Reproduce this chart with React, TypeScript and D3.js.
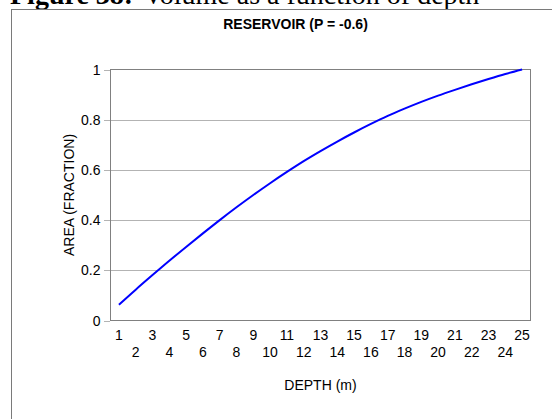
import React from "react";
import * as d3 from "d3";

const depths: number[] = [1,2,3,4,5,6,7,8,9,10,11,12,13,14,15,16,17,18,19,20,21,22,23,24,25];
const areaFraction: number[] = [
  0.063, 0.123, 0.181, 0.238, 0.293, 0.347, 0.4, 0.451, 0.5, 0.547,
  0.592, 0.635, 0.675, 0.713, 0.749, 0.783, 0.815, 0.844, 0.871, 0.896,
  0.919, 0.941, 0.962, 0.982, 1.0,
];
const yTicks: number[] = [0, 0.2, 0.4, 0.6, 0.8, 1];
const yTickLabels: string[] = ["0", "0.2", "0.4", "0.6", "0.8", "1"];

const W = 552;
const H = 419;
const plot = { left: 110.5, right: 530.5, top: 69.5, bottom: 320.5 };
const sans = "'Liberation Sans', Arial, sans-serif";
const serif = "'Liberation Serif', 'Times New Roman', serif";

export default function App() {
  const x = d3.scaleBand<number>().domain(depths).range([plot.left, plot.right]).padding(0);
  const bw = x.bandwidth();
  const cx = (d: number) => (x(d) as number) + bw / 2;
  const y = d3.scaleLinear().domain([0, 1]).range([plot.bottom, plot.top]);
  const line = d3
    .line<number>()
    .x((_, i) => cx(depths[i]))
    .y((v) => y(v))
    .curve(d3.curveMonotoneX);
  const midX = (plot.left + plot.right) / 2;
  const midY = (plot.top + plot.bottom) / 2;

  return (
    <svg
      width={W}
      height={H}
      style={{ position: "absolute", left: 0, top: 0, background: "#fff" }}
    >
      <text x={10} y={4} fontFamily={serif} fontSize={28} fill="#000">
        <tspan fontWeight="bold">Figure 38:</tspan>
        <tspan dx={10}>Volume as a function of depth</tspan>
      </text>
      <rect x={11.5} y={9.5} width={700} height={600} fill="none" stroke="#7a7a7a" strokeWidth={1} />
      <text x={midX - 25} y={28.5} textAnchor="middle" fontFamily={sans} fontSize={14} fontWeight="bold" fill="#000">
        RESERVOIR (P = -0.6)
      </text>
      {yTicks.map((t) => (
        <g key={"g" + t}>
          {t > 0 && t < 1 && (
            <line
              x1={plot.left}
              x2={plot.right}
              y1={Math.round(y(t)) + 0.5}
              y2={Math.round(y(t)) + 0.5}
              stroke="#666"
              strokeWidth={1}
              strokeDasharray="1,1"
            />
          )}
          <line
            x1={plot.left - 6}
            x2={plot.left}
            y1={Math.round(y(t)) + 0.5}
            y2={Math.round(y(t)) + 0.5}
            stroke="#666"
            strokeWidth={1}
            strokeDasharray="1,1"
          />
        </g>
      ))}
      <rect
        x={plot.left}
        y={plot.top}
        width={plot.right - plot.left}
        height={plot.bottom - plot.top}
        fill="none"
        stroke="#808080"
        strokeWidth={1}
      />
      {yTicks.map((t, i) => (
        <text
          key={"yl" + t}
          x={100.5}
          y={y(t) + 5}
          textAnchor="end"
          fontFamily={sans}
          fontSize={14}
          fill="#000"
        >
          {yTickLabels[i]}
        </text>
      ))}
      {depths.map((d, i) => (
        <text
          key={"xl" + d}
          x={cx(d)}
          y={i % 2 === 0 ? 340 : 357}
          textAnchor="middle"
          fontFamily={sans}
          fontSize={14}
          fill="#000"
        >
          {d}
        </text>
      ))}
      <path d={line(areaFraction) || ""} fill="none" stroke="#0000ff" strokeWidth={2} />
      <text
        transform={`translate(74,${midY}) rotate(-90)`}
        textAnchor="middle"
        fontFamily={sans}
        fontSize={14}
        fill="#000"
      >
        AREA (FRACTION)
      </text>
      <text x={midX} y={390} textAnchor="middle" fontFamily={sans} fontSize={14} fill="#000">
        DEPTH (m)
      </text>
    </svg>
  );
}
